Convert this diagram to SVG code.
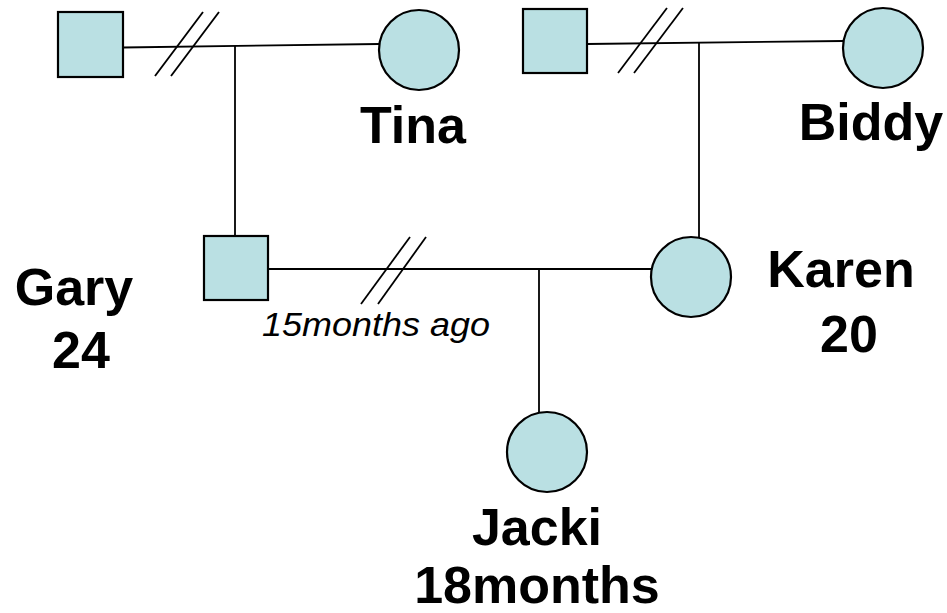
<svg xmlns="http://www.w3.org/2000/svg" width="947" height="613" viewBox="0 0 947 613">
<style>
.n{fill:#BAE0E3;stroke:#000;stroke-width:2.2}
.c{stroke:#000;stroke-width:1.8;fill:none}
.lb{font-family:"Liberation Sans",Arial,sans-serif;font-weight:bold;font-size:52px;fill:#000;text-anchor:middle}
.it{font-family:"Liberation Sans",Arial,sans-serif;font-style:italic;font-size:34px;fill:#000}
</style>
<rect width="947" height="613" fill="#fff"/>
<g id="connectors">
<line class="c" x1="123" y1="47.5" x2="379" y2="44"/>
<line class="c" x1="155" y1="76" x2="203" y2="12"/>
<line class="c" x1="171" y1="76" x2="219" y2="12"/>
<line class="c" x1="235" y1="46" x2="235" y2="236"/>
<line class="c" x1="587" y1="44" x2="843" y2="41"/>
<line class="c" x1="618" y1="73" x2="667" y2="8"/>
<line class="c" x1="634" y1="73" x2="683" y2="8"/>
<line class="c" x1="699" y1="43" x2="699" y2="238"/>
<line class="c" x1="268" y1="269" x2="652" y2="269"/>
<line class="c" x1="361" y1="304" x2="410" y2="237"/>
<line class="c" x1="378" y1="304" x2="426" y2="237"/>
<line class="c" x1="539" y1="269" x2="539" y2="412"/>
</g>
<g id="tina-partner"><rect class="n" x="58" y="12" width="65" height="65"/></g>
<g id="tina"><circle class="n" cx="419" cy="50" r="40"/><text class="lb" x="413" y="143">Tina</text></g>
<g id="biddy-partner"><rect class="n" x="523" y="9" width="64" height="64"/></g>
<g id="biddy"><circle class="n" cx="883" cy="48" r="40"/><text class="lb" x="871" y="140">Biddy</text></g>
<g id="gary"><rect class="n" x="204" y="236" width="64" height="64"/><text class="lb" x="74" y="305">Gary</text><text class="lb" x="81" y="368">24</text></g>
<g id="karen"><circle class="n" cx="691" cy="277" r="40"/><text class="lb" x="841" y="287">Karen</text><text class="lb" x="849" y="352">20</text></g>
<g id="jacki"><circle class="n" cx="547" cy="452" r="40"/><text class="lb" x="537" y="545">Jacki</text><text class="lb" x="537" y="603">18months</text></g>
<text class="it" x="262" y="336" textLength="228" lengthAdjust="spacingAndGlyphs">15months ago</text>
</svg>
